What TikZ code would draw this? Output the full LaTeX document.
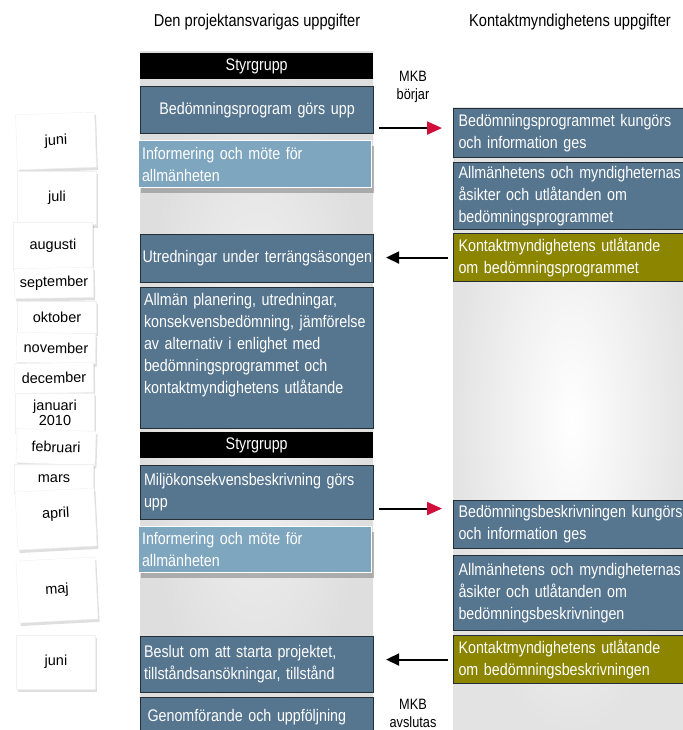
\documentclass[tikz,border=0pt]{standalone}
\usepackage{fontspec}
\setmainfont{Liberation Sans}
\newfontfamily\condfont[FakeStretch=0.85]{Liberation Sans}
\usetikzlibrary{arrows.meta,shadows,calc}

\definecolor{taskblue}{RGB}{86,117,143}
\definecolor{infoblue}{RGB}{127,166,191}
\definecolor{olive}{RGB}{139,133,0}
\definecolor{boxline}{RGB}{38,46,54}
\definecolor{arrred}{RGB}{208,16,58}

\begin{document}
\begin{tikzpicture}[x=1pt,y=-1pt,
  hdr/.style={font=\condfont\fontsize{17.2}{20}\selectfont},
  mkb/.style={align=center, font=\condfont\fontsize{15}{18}\selectfont},
  card/.style={
    fill=white,
    draw=gray!12,
    minimum width=79pt,
    inner sep=0pt,
    align=center,
    font=\fontsize{14.5}{15.5}\selectfont,
    drop shadow={shadow xshift=1.5pt, shadow yshift=-3pt, opacity=0.25}
  },
  task/.style={
    draw=boxline,
    line width=1.1pt,
    fill=taskblue,
    text=white,
    anchor=north west,
    text width=226pt,
    inner xsep=3.5pt,
    inner ysep=0pt,
    minimum height=47pt,
    align=left,
    font=\condfont\fontsize{16.8}{22}\selectfont
  },
  info/.style={
    task,
    draw=white,
    fill=infoblue,
    drop shadow={shadow xshift=2pt, shadow yshift=-5pt, opacity=0.55}
  },
  styr/.style={
    fill=black,
    text=white,
    anchor=north west,
    minimum width=233pt,
    minimum height=26pt,
    inner sep=0pt,
    font=\condfont\fontsize{16.8}{18}\selectfont
  },
  auth/.style={task, text width=250pt, inner xsep=5pt, minimum height=48pt},
  statement/.style={auth, fill=olive},
  arr/.style={-{Triangle[length=13pt,width=12pt]}, line width=2pt},
  redarr/.style={-{Triangle[length=15pt,width=13pt,fill=arrred,color=arrred]}, line width=2pt}
]
\useasboundingbox (0,0) rectangle (682,730);

% -------------------------------------------------
% Column x-positions
% -------------------------------------------------
\def\xL{140}
\def\xR{453}

% -------------------------------------------------
% BACKGROUNDS
% -------------------------------------------------
\fill[inner color=gray!8, outer color=gray!26] (\xL,52) rectangle (\xL+233,735);
\fill[inner color=white, outer color=gray!22] (\xR,108) rectangle (690,735);

% -------------------------------------------------
% HEADINGS
% -------------------------------------------------
\node[hdr] (h1) at (257,22) {Den projektansvarigas uppgifter};
\node[hdr] (h2) at (570,22) {Kontaktmyndighetens uppgifter};

% -------------------------------------------------
% MONTHS
% -------------------------------------------------
\node[card, minimum height=55pt, rotate=2] (m1) at (56,141) {juni};
\node[card, minimum height=53pt] (m2) at (57,198) {juli};
\node[card, minimum height=47pt] (m3) at (53,246) {augusti};
\node[card, minimum height=30pt, rotate=1] (m4) at (54,283) {september};
\node[card, minimum height=32pt] (m5) at (57,317) {oktober};
\node[card, minimum height=30pt, rotate=-1] (m6) at (56,348) {november};
\node[card, minimum height=30pt, rotate=1] (m7) at (54,378) {december};
\node[card, minimum height=40pt] (m8) at (55,413) {januari\\2010};
\node[card, minimum height=34pt, rotate=-2] (m9) at (56,447) {februari};
\node[card, minimum height=30pt] (m10) at (54,479) {mars};
\node[card, minimum height=58pt, rotate=3, text depth=13pt] (m11) at (56,519) {april};
\node[card, minimum height=62pt, rotate=3] (m12) at (57,590) {maj};
\node[card, minimum height=54pt] (m13) at (56,662) {juni};

% -------------------------------------------------
% PROJECT OWNER TASKS (left)
% -------------------------------------------------
\node[styr] (styr1) at (\xL,53) {Styrgrupp};
\node[task, align=center] (bed) at (\xL,86) {Bedömningsprogram görs upp};
\node[info] (info1) at (\xL-2,140) {Informering och möte för\\allmänheten};
\node[task, minimum height=48pt, inner xsep=2pt, text width=229pt] (utr) at (\xL,234) {\mbox{Utredningar under terrängsäsongen}};
\node[task, minimum height=141pt] (plan) at (\xL,287) {\parbox[c][129pt][t]{226pt}{\raggedright Allmän planering, utredningar,\\konsekvensbedömning, jämförelse\\av alternativ i enlighet med\\bedömningsprogrammet och\\kontaktmyndighetens utlåtande}};
\node[styr] (styr2) at (\xL,432) {Styrgrupp};
\node[task, minimum height=54pt] (milj) at (\xL,465) {Miljökonsekvensbeskrivning görs\\upp};
\node[info, minimum height=46pt] (info2) at (\xL-2,526) {Informering och möte för\\allmänheten};
\node[task, minimum height=56pt] (besl) at (\xL,636) {Beslut om att starta projektet,\\tillståndsansökningar, tillstånd};
\node[task, minimum height=44pt, text height=24pt, text depth=20pt, inner xsep=7pt, text width=219pt] (genom) at (\xL,697) {Genomförande och uppföljning};

% -------------------------------------------------
% AUTHORITY TASKS (right)
% -------------------------------------------------
\node[auth, minimum height=49pt] (kung) at (\xR,108) {Bedömningsprogrammet kungörs\\och information ges};
\node[auth, minimum height=67pt] (asik) at (\xR,162) {Allmänhetens och myndigheternas\\åsikter och utlåtanden om\\bedömningsprogrammet};
\node[statement] (utl) at (\xR,233) {Kontaktmyndighetens utlåtande\\om bedömningsprogrammet};

\node[auth] (kungB) at (\xR,500) {Bedömningsbeskrivningen kungörs\\och information ges};
\node[auth, minimum height=75pt] (asikB) at (\xR,555) {Allmänhetens och myndigheternas\\åsikter och utlåtanden om\\bedömningsbeskrivningen};
\node[statement] (utlB) at (\xR,635) {Kontaktmyndighetens utlåtande\\om bedömningsbeskrivningen};

% -------------------------------------------------
% MKB labels
% -------------------------------------------------
\node[mkb] (start) at (413,87) {MKB\\börjar};
\node[mkb] (end) at (413,713) {MKB\\avslutas};

% -------------------------------------------------
% ARROWS
% -------------------------------------------------
\draw[redarr] ($(bed.east |- kung.west)+(5,-5)$) -- ($(kung.west)+(-11,-5)$);
\draw[arr] ($(utl.west)+(-5,0)$) -- ($(utr.east |- utl.west)+(12,0)$);
\draw[redarr] ($(milj.east |- kungB.west)+(5,-16)$) -- ($(kungB.west)+(-11,-16)$);
\draw[arr] ($(utlB.west)+(-5,0)$) -- ($(besl.east |- utlB.west)+(12,0)$);

\end{tikzpicture}
\end{document}
